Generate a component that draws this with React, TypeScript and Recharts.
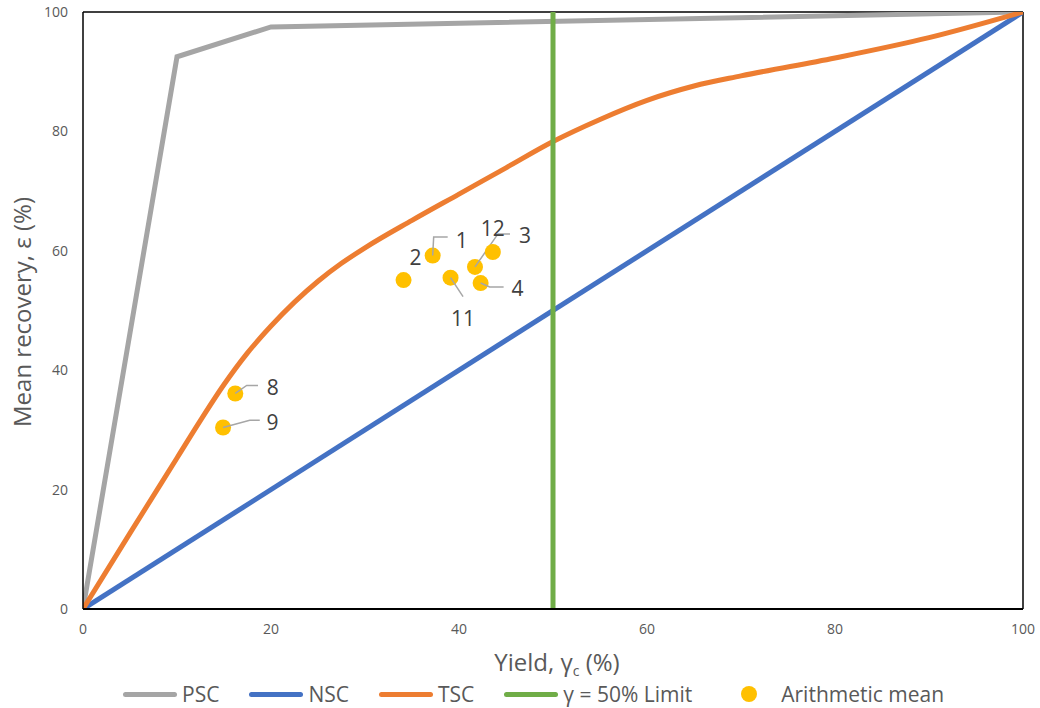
import { ComposedChart, Line, ReferenceLine, Scatter, XAxis, YAxis } from 'recharts';

const FONT = '"Open Sans", "Noto Sans", sans-serif';

const axisTicks = [0, 20, 40, 60, 80, 100];

// PSC, NSC, TSC curves and the 50 % limit
const pscYield = [0, 10, 20, 100];
const pscRecovery = [0, 92.5, 97.5, 100];
const nscYield = [0, 100];
const nscRecovery = [0, 100];
const tscYield = [0, 5, 10, 12.5, 15, 17.5, 20, 22.5, 25, 27.5, 30, 35, 40, 45, 50, 55, 60, 65, 70, 80, 90, 100];
const tscRecovery = [0, 12.7, 25.3, 31.6, 37.6, 42.9, 47.4, 51.4, 54.9, 57.9, 60.5, 65.1, 69.5, 73.9, 78.3, 82, 85.2, 87.6, 89.3, 92.3, 95.7, 100];
const limitYield = [50, 50];
const limitRecovery = [0, 100];

// arithmetic means of the samples
const meanLabels = ['1', '2', '11', '3', '12', '4', '8', '9'];
const meanYield = [37.2, 34.1, 39.1, 41.7, 43.6, 42.3, 16.2, 14.9];
const meanRecovery = [59.2, 55.1, 55.5, 57.3, 59.8, 54.6, 36.1, 30.4];

const toPoints = (xs: number[], ys: number[]) => xs.map((x, i) => ({ x, y: ys[i] }));

const pscData = toPoints(pscYield, pscRecovery);
const nscData = toPoints(nscYield, nscRecovery);
const tscData = toPoints(tscYield, tscRecovery);
const limitData = toPoints(limitYield, limitRecovery);
const meanData = meanYield.map((x, i) => ({ x, y: meanRecovery[i], label: meanLabels[i] }));

// label placement relative to the marker (pixels)
const labelLayout: Record<string, { dx: number; dy: number; leader?: number[][] }> = {
  '1': { dx: 29, dy: -16, leader: [[0, 0], [1, -18.5], [15, -18.5]] },
  '2': { dx: 12, dy: -23 },
  '11': { dx: 12.5, dy: 40, leader: [[0, 0], [12.5, 19]] },
  '3': { dx: 50, dy: -32, leader: [[0, 0], [23, -33], [35, -33]] },
  '12': { dx: 0, dy: -24 },
  '4': { dx: 37, dy: 5, leader: [[0, 0], [9, 4], [23, 4]] },
  '8': { dx: 37.4, dy: -6, leader: [[0, 0], [11.4, -8], [22.7, -8]] },
  '9': { dx: 49.4, dy: -5.6, leader: [[0, 0], [26.7, -7.3], [36.7, -7.3]] },
};

const MeanMarker = (props: any) => {
  const { cx, cy, payload } = props;
  if (cx == null || cy == null) return null;
  const lay = labelLayout[payload.label];
  return (
    <g>
      <circle cx={cx} cy={cy} r={8} fill="#FFC000" />
      {lay && lay.leader && (
        <polyline
          points={lay.leader.map((p) => `${cx + p[0]},${cy + p[1]}`).join(' ')}
          fill="none"
          stroke="#A6A6A6"
          strokeWidth={1.5}
        />
      )}
      {lay && (
        <text
          x={cx + lay.dx}
          y={cy + lay.dy}
          textAnchor="middle"
          dominantBaseline="central"
          fontSize={21}
          fontFamily={FONT}
          fill="#404040"
        >
          {payload.label}
        </text>
      )}
    </g>
  );
};

const legendItems = [
  { name: 'PSC', color: '#A5A5A5', kind: 'line' },
  { name: 'NSC', color: '#4472C4', kind: 'line' },
  { name: 'TSC', color: '#ED7D31', kind: 'line' },
  { name: 'γ = 50% Limit', color: '#70AD47', kind: 'line' },
  { name: 'Arithmetic mean', color: '#FFC000', kind: 'dot' },
];

const tickStyle = { fontSize: 14, fill: '#595959', fontFamily: FONT };

export default function App() {
  return (
    <div style={{ position: 'absolute', left: 0, top: 0, width: 1040, height: 708, background: '#fff', fontFamily: FONT }}>
      <ComposedChart width={1040} height={708} margin={{ top: 12, right: 17, bottom: 0, left: 0 }}>
        <XAxis
          type="number"
          dataKey="x"
          domain={[0, 100]}
          ticks={axisTicks}
          tickLine={false}
          tickMargin={9}
          height={99}
          tick={tickStyle}
          axisLine={{ stroke: '#000', strokeWidth: 2 }}
          allowDataOverflow
        />
        <YAxis
          type="number"
          domain={[0, 100]}
          ticks={axisTicks}
          tickLine={false}
          tickMargin={9}
          width={83}
          tick={tickStyle}
          axisLine={{ stroke: '#000', strokeWidth: 1.5 }}
          allowDataOverflow
        />
        <ReferenceLine y={100} stroke="#000" strokeWidth={1.5} />
        <ReferenceLine x={100} stroke="#000" strokeWidth={1.5} />
        <Line data={pscData} dataKey="y" type="linear" stroke="#A5A5A5" strokeWidth={5} dot={false} isAnimationActive={false} />
        <Line data={nscData} dataKey="y" type="linear" stroke="#4472C4" strokeWidth={5} dot={false} isAnimationActive={false} />
        <Line data={tscData} dataKey="y" type="monotone" stroke="#ED7D31" strokeWidth={5} dot={false} isAnimationActive={false} />
        <Line data={limitData} dataKey="y" type="linear" stroke="#70AD47" strokeWidth={5} dot={false} isAnimationActive={false} />
        <Scatter data={meanData} dataKey="y" shape={MeanMarker} isAnimationActive={false} />
      </ComposedChart>

      <div
        style={{
          position: 'absolute',
          left: 22 - 200,
          top: 312 - 14,
          width: 400,
          height: 28,
          lineHeight: '28px',
          textAlign: 'center',
          transform: 'rotate(-90deg)',
          fontSize: 24,
          color: '#595959',
        }}
      >
        Mean recovery, ε (%)
      </div>
      <div
        style={{
          position: 'absolute',
          left: 357,
          top: 662 - 13,
          width: 400,
          height: 26,
          lineHeight: '26px',
          textAlign: 'center',
          fontSize: 24,
          color: '#595959',
        }}
      >
        Yield, γ<span style={{ fontSize: 14, position: 'relative', top: 5 }}>c</span> (%)
      </div>

      <div
        style={{
          position: 'absolute',
          left: 123,
          top: 694 - 12,
          height: 24,
          display: 'flex',
          alignItems: 'center',
          fontSize: 21,
          lineHeight: '24px',
          color: '#595959',
          whiteSpace: 'nowrap',
        }}
      >
        {legendItems.map((it) => (
          <div key={it.name} style={{ display: 'flex', alignItems: 'center', marginRight: 30 }}>
            <div style={{ width: 54, height: 24, display: 'flex', alignItems: 'center', justifyContent: 'center' }}>
              {it.kind === 'line' ? (
                <div style={{ width: 54, height: 5, borderRadius: 2.5, background: it.color }} />
              ) : (
                <div style={{ width: 16, height: 16, borderRadius: 8, background: it.color }} />
              )}
            </div>
            <span style={{ marginLeft: 5 }}>{it.name}</span>
          </div>
        ))}
      </div>
    </div>
  );
}
